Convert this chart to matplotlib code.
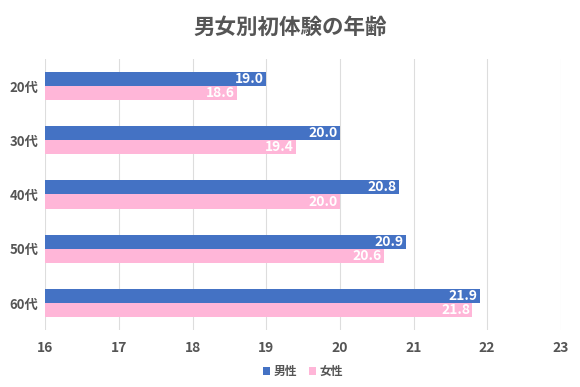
import numpy as np
import matplotlib
matplotlib.use("Agg")
import matplotlib.pyplot as plt

plt.rcParams['font.family'] = ['Noto Sans CJK JP', 'DejaVu Sans']

# data
ages = ['20代', '30代', '40代', '50代', '60代']
male = [19.0, 20.0, 20.8, 20.9, 21.9]
female = [18.6, 19.4, 20.0, 20.6, 21.8]
ticks = [16, 17, 18, 19, 20, 21, 22, 23]

blue = '#4472c4'
pink = '#ffb6d8'
gray = '#555555'

fig = plt.figure(figsize=(5.8, 3.87), dpi=100)
ax = fig.add_axes([0.078, 0.147, 0.889, 0.701])

y = np.arange(len(ages))
h = 0.26
ax.barh(y - h / 2, np.array(male) - 16, left=16, height=h, color=blue, label='男性')
ax.barh(y + h / 2, np.array(female) - 16, left=16, height=h, color=pink, label='女性')

for i in range(len(ages)):
    ax.text(male[i] - 0.03, y[i] - h / 2, f'{male[i]:.1f}', ha='right', va='center',
            color='white', fontsize=10, fontweight='bold')
    ax.text(female[i] - 0.03, y[i] + h / 2, f'{female[i]:.1f}', ha='right', va='center',
            color='white', fontsize=10, fontweight='bold')

ax.set_xlim(16, 23)
ax.set_ylim(len(ages) - 0.5, -0.5)
ax.set_xticks(ticks)
ax.set_xticklabels([str(t) for t in ticks], fontsize=10, fontweight='bold', color=gray)
ax.set_yticks(y)
ax.set_yticklabels(ages, fontsize=9.5, fontweight='bold', color=gray)
ax.tick_params(length=0, pad=8)
ax.tick_params(axis='y', pad=5)
ax.grid(axis='x', color='#dddddd', linewidth=0.8)
ax.set_axisbelow(True)
for s in ax.spines.values():
    s.set_visible(False)

fig.suptitle('男女別初体験の年齢', y=0.955, fontsize=15.5, fontweight='bold', color=gray)

leg = ax.legend(loc='upper center', bbox_to_anchor=(0.5, -0.09), ncol=2, frameon=False,
                fontsize=8.5, handlelength=0.6, handleheight=0.6, handletextpad=0.3,
                columnspacing=1.0)
for t in leg.get_texts():
    t.set_fontweight('bold')
    t.set_color(gray)

fig.savefig('out.png', dpi=100)
